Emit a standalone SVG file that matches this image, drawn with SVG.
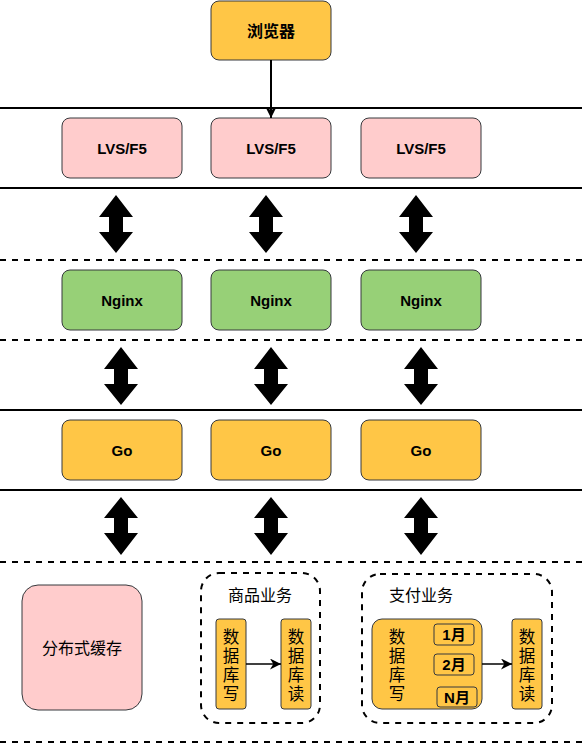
<svg xmlns="http://www.w3.org/2000/svg" width="582" height="744" viewBox="0 0 582 744">
<style>
.solid{stroke:#000;stroke-width:2;fill:none}
.dash{stroke:#000;stroke-width:2;fill:none;stroke-dasharray:6 6}
.box{stroke:#36393d;stroke-width:1}
.orange{fill:#FFC646}
.pink{fill:#FFCCCC}
.green{fill:#97D077}
.lbl{font-family:"Liberation Sans",Arial,sans-serif;font-weight:bold;font-size:15px;fill:#000;text-anchor:middle;dominant-baseline:central}
.cjk{font-family:"Liberation Sans","Noto Sans CJK SC",sans-serif;font-size:16px;fill:#000;text-anchor:middle;dominant-baseline:central}
.v{font-family:"Liberation Sans","Noto Sans CJK SC",sans-serif;font-size:16.5px;fill:#000;text-anchor:middle;dominant-baseline:central}
.m{font-family:"Liberation Sans","Noto Sans CJK SC",sans-serif;font-weight:bold;font-size:15px;fill:#000;text-anchor:middle;dominant-baseline:central}
.dbl{fill:#000}
</style>
<defs>
<marker id="ah" viewBox="0 0 10 10" refX="10" refY="5" markerWidth="11" markerHeight="11" markerUnits="userSpaceOnUse" orient="auto">
<path d="M0,0 L10,5 L0,10 L3,5 z" fill="#000"/>
</marker>
</defs>
<g id="layers">
<line class="solid" x1="0" y1="108" x2="582" y2="108"/>
<line class="solid" x1="0" y1="188" x2="582" y2="188"/>
<line class="dash" x1="0" y1="260" x2="582" y2="260"/>
<line class="dash" x1="0" y1="340" x2="582" y2="340"/>
<line class="solid" x1="0" y1="410" x2="582" y2="410"/>
<line class="solid" x1="0" y1="490" x2="582" y2="490"/>
<line class="dash" x1="0" y1="562" x2="582" y2="562"/>
<line class="dash" x1="0" y1="742" x2="582" y2="742"/>
</g>
<g id="browser"><rect class="box orange" x="211" y="1" width="120" height="59" rx="8"/><text class="cjk" font-weight="bold" x="271" y="31">浏览器</text></g>
<g id="lvs1"><rect class="box pink" x="62" y="118" width="120" height="60" rx="8"/><text class="lbl" x="122" y="148">LVS/F5</text></g>
<g id="lvs2"><rect class="box pink" x="211" y="118" width="120" height="60" rx="8"/><text class="lbl" x="271" y="148">LVS/F5</text></g>
<g id="lvs3"><rect class="box pink" x="361" y="118" width="120" height="60" rx="8"/><text class="lbl" x="421" y="148">LVS/F5</text></g>
<g id="nginx1"><rect class="box green" x="62" y="270" width="120" height="60" rx="8"/><text class="lbl" x="122" y="300">Nginx</text></g>
<g id="nginx2"><rect class="box green" x="211" y="270" width="120" height="60" rx="8"/><text class="lbl" x="271" y="300">Nginx</text></g>
<g id="nginx3"><rect class="box green" x="361" y="270" width="120" height="60" rx="8"/><text class="lbl" x="421" y="300">Nginx</text></g>
<g id="go1"><rect class="box orange" x="62" y="420" width="120" height="60" rx="8"/><text class="lbl" x="122" y="450">Go</text></g>
<g id="go2"><rect class="box orange" x="211" y="420" width="120" height="60" rx="8"/><text class="lbl" x="271" y="450">Go</text></g>
<g id="go3"><rect class="box orange" x="361" y="420" width="120" height="60" rx="8"/><text class="lbl" x="421" y="450">Go</text></g>
<g id="cache"><rect class="box pink" x="22" y="585" width="120" height="125" rx="16"/><text class="cjk" x="82" y="648">分布式缓存</text></g>
<g id="goods">
<rect class="dash" x="201" y="573" width="119" height="150" rx="18"/>
<text class="cjk" x="260" y="595">商品业务</text>
<g id="goods-write"><rect class="box orange" x="216" y="619" width="30" height="90" rx="3"/>
<text class="v" x="231" y="637">数</text><text class="v" x="231" y="656">据</text><text class="v" x="231" y="675">库</text><text class="v" x="231" y="694">写</text></g>
<g id="goods-read"><rect class="box orange" x="281" y="619" width="30" height="90" rx="3"/>
<text class="v" x="296" y="637">数</text><text class="v" x="296" y="656">据</text><text class="v" x="296" y="675">库</text><text class="v" x="296" y="694">读</text></g>
</g>
<g id="pay">
<rect class="dash" x="362" y="574" width="190" height="149" rx="18"/>
<text class="cjk" x="421" y="595">支付业务</text>
<g id="pay-write"><rect class="box orange" x="372" y="619" width="110" height="90" rx="10"/>
<text class="v" x="397" y="637">数</text><text class="v" x="397" y="656">据</text><text class="v" x="397" y="675">库</text><text class="v" x="397" y="694">写</text>
<rect class="box" fill="none" stroke-width="1.5" x="434" y="624" width="40" height="21" rx="3"/><text class="m" x="454" y="634.5">1月</text>
<rect class="box" fill="none" stroke-width="1.5" x="434" y="654" width="40" height="21" rx="3"/><text class="m" x="454" y="664.5">2月</text>
<rect class="box" fill="none" stroke-width="1.5" x="437" y="687" width="40" height="20" rx="3"/><text class="m" x="457" y="697">N月</text>
</g>
<g id="pay-read"><rect class="box orange" x="512" y="619" width="30" height="90" rx="3"/>
<text class="v" x="527" y="637">数</text><text class="v" x="527" y="656">据</text><text class="v" x="527" y="675">库</text><text class="v" x="527" y="694">读</text></g>
</g>
<g id="connectors">
<line x1="271" y1="60" x2="271" y2="118" stroke="#000" stroke-width="2" marker-end="url(#ah)"/>
<line x1="246" y1="664" x2="281" y2="664" stroke="#000" stroke-width="1.5" marker-end="url(#ah)"/>
<line x1="482" y1="664" x2="512" y2="664" stroke="#000" stroke-width="1.5" marker-end="url(#ah)"/>
<polygon class="dbl" points="116,195 133,217 123,217 123,232 133,232 116,253 99,232 109,232 109,217 99,217"/>
<polygon class="dbl" points="266,195 283,217 273,217 273,232 283,232 266,253 249,232 259,232 259,217 249,217"/>
<polygon class="dbl" points="416,195 433,217 423,217 423,232 433,232 416,253 399,232 409,232 409,217 399,217"/>
<polygon class="dbl" points="121,347 138,369 128,369 128,384 138,384 121,405 104,384 114,384 114,369 104,369"/>
<polygon class="dbl" points="271,347 288,369 278,369 278,384 288,384 271,405 254,384 264,384 264,369 254,369"/>
<polygon class="dbl" points="421,347 438,369 428,369 428,384 438,384 421,405 404,384 414,384 414,369 404,369"/>
<polygon class="dbl" points="121,497 138,518 128,518 128,533 138,533 121,555 104,533 114,533 114,518 104,518"/>
<polygon class="dbl" points="271,497 288,518 278,518 278,533 288,533 271,555 254,533 264,533 264,518 254,518"/>
<polygon class="dbl" points="421,497 438,518 428,518 428,533 438,533 421,555 404,533 414,533 414,518 404,518"/>
</g>
</svg>
